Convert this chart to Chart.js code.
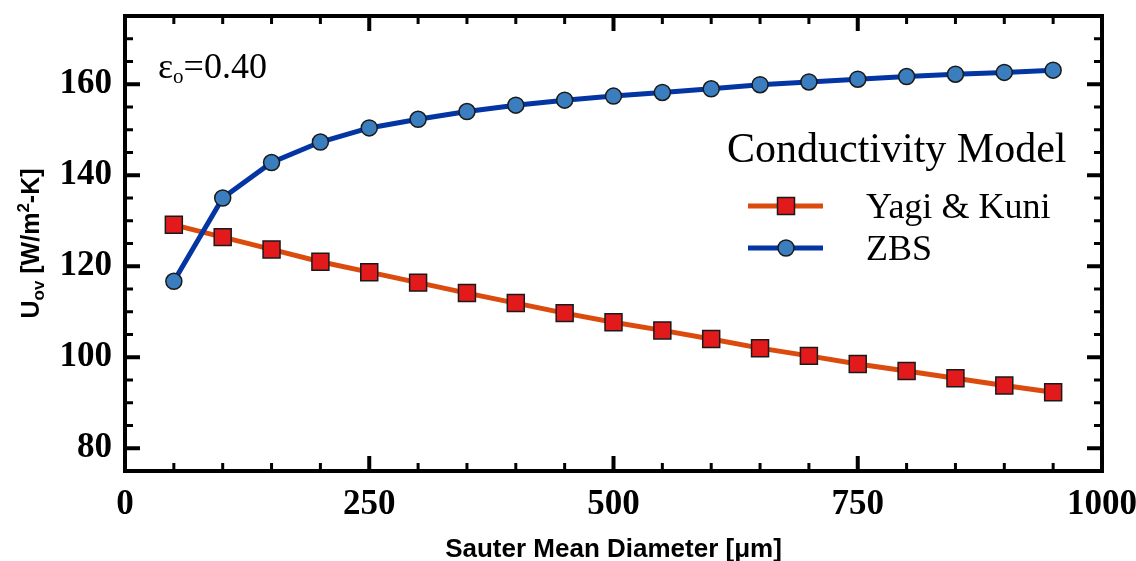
<!DOCTYPE html>
<html lang="en">
<head>
    <meta charset="UTF-8">
    <title>Overall heat transfer coefficient vs Sauter mean diameter</title>
    <script src="https://cdn.jsdelivr.net/npm/chart.js"></script>
    <style>
        html, body {
            margin: 0;
            padding: 0;
            background: #ffffff;
        }
        #wrap {
            width: 1136px;
            height: 561px;
            position: relative;
        }
    </style>
</head>
<body>
    <div id="wrap">
        <canvas id="chart" width="1136" height="561"></canvas>
    </div>

    <script>
        // data
        const diameters = [50, 100, 150, 200, 250, 300, 350, 400, 450, 500, 550, 600, 650, 700, 750, 800, 850, 900, 950];
        const yagiKuni = [129.1, 126.4, 123.7, 121.0, 118.7, 116.4, 114.1, 111.9, 109.7, 107.7, 105.9, 104.0, 102.0, 100.3, 98.5, 97.0, 95.4, 93.8, 92.3];
        const zbs = [116.7, 135.0, 142.8, 147.3, 150.4, 152.3, 154.0, 155.4, 156.5, 157.4, 158.2, 159.0, 159.9, 160.5, 161.1, 161.7, 162.2, 162.6, 163.1];

        const xTicks = [0, 250, 500, 750, 1000];
        const yTicks = [80, 100, 120, 140, 160];
        const xMinorStep = 50;
        const yMinorStep = 5;

        const seriesNames = ['Yagi & Kuni', 'ZBS'];
        const legendTitle = 'Conductivity Model';

        const serif = "'Liberation Serif', 'Times New Roman', serif";
        const sans = "'Liberation Sans', Arial, sans-serif";

        const ORANGE = '#dc4b0e';
        const RED = '#e31a1c';
        const NAVY = '#0335a3';
        const STEEL = '#3a7ebf';
        const EDGE = '#1a1a1a';

        function toPoints(ys) {
            return diameters.map((d, i) => ({ x: d, y: ys[i] }));
        }

        function noScalePadding(scale) {
            scale.paddingTop = 0;
            scale.paddingBottom = 0;
            scale.paddingLeft = 0;
            scale.paddingRight = 0;
        }

        // frame, inward ticks on all four sides, labels, legend
        const decorations = {
            id: 'decorations',
            afterDraw(chart) {
                const ctx = chart.ctx;
                const a = chart.chartArea;
                const xs = chart.scales.x;
                const ys = chart.scales.y;

                ctx.save();
                ctx.strokeStyle = '#000';
                ctx.lineCap = 'butt';

                // x ticks (bottom + top)
                for (let v = xs.min; v <= xs.max; v += xMinorStep) {
                    const px = xs.getPixelForValue(v);
                    const major = xTicks.includes(v);
                    const len = major ? 15 : 8;
                    ctx.lineWidth = major ? 4 : 3;
                    ctx.beginPath();
                    ctx.moveTo(px, a.bottom);
                    ctx.lineTo(px, a.bottom - len);
                    ctx.moveTo(px, a.top);
                    ctx.lineTo(px, a.top + len);
                    ctx.stroke();
                }

                // y ticks (left + right)
                for (let v = 80; v < ys.max; v += yMinorStep) {
                    const py = ys.getPixelForValue(v);
                    const major = yTicks.includes(v);
                    const len = major ? 15 : 8;
                    ctx.lineWidth = major ? 4 : 3;
                    ctx.beginPath();
                    ctx.moveTo(a.left, py);
                    ctx.lineTo(a.left + len, py);
                    ctx.moveTo(a.right, py);
                    ctx.lineTo(a.right - len, py);
                    ctx.stroke();
                }

                // frame
                ctx.lineWidth = 4;
                ctx.lineJoin = 'miter';
                ctx.strokeRect(a.left, a.top, a.right - a.left, a.bottom - a.top);

                // axis titles
                ctx.fillStyle = '#000';
                ctx.textAlign = 'center';
                ctx.textBaseline = 'alphabetic';
                ctx.font = 'bold 26px ' + sans;
                ctx.fillText('Sauter Mean Diameter [\u03bcm]', (a.left + a.right) / 2, 557);

                // y title with sub/superscripts, rotated
                ctx.save();
                ctx.translate(39, (a.top + a.bottom) / 2);
                ctx.rotate(-Math.PI / 2);
                const parts = [
                    { t: 'U', f: 'bold 25px ' + sans, dy: 0 },
                    { t: 'ov', f: 'bold 17px ' + sans, dy: 5 },
                    { t: ' [W/m', f: 'bold 25px ' + sans, dy: 0 },
                    { t: '2', f: 'bold 17px ' + sans, dy: -10 },
                    { t: '-K]', f: 'bold 25px ' + sans, dy: 0 }
                ];
                let total = 0;
                parts.forEach(p => { ctx.font = p.f; p.w = ctx.measureText(p.t).width; total += p.w; });
                let cx = -total / 2;
                ctx.textAlign = 'left';
                parts.forEach(p => {
                    ctx.font = p.f;
                    ctx.fillText(p.t, cx, p.dy);
                    cx += p.w;
                });
                ctx.restore();

                // annotation
                ctx.textAlign = 'left';
                ctx.font = '36px ' + serif;
                ctx.fillText('\u03b5', 158, 78);
                let ex = 158 + ctx.measureText('\u03b5').width;
                ctx.font = '21px ' + serif;
                ctx.fillText('o', ex, 83);
                ex += ctx.measureText('o').width;
                ctx.font = '36px ' + serif;
                ctx.fillText('=0.40', ex, 78);

                // legend
                ctx.font = '42px ' + serif;
                ctx.fillText(legendTitle, 727, 162);

                const rows = [
                    { y: 206, line: ORANGE, fill: RED, shape: 'rect' },
                    { y: 248, line: NAVY, fill: STEEL, shape: 'circle' }
                ];
                rows.forEach((r, i) => {
                    ctx.strokeStyle = r.line;
                    ctx.lineWidth = 5;
                    ctx.beginPath();
                    ctx.moveTo(748, r.y);
                    ctx.lineTo(823, r.y);
                    ctx.stroke();
                    ctx.fillStyle = r.fill;
                    ctx.strokeStyle = EDGE;
                    ctx.lineWidth = 1.5;
                    ctx.beginPath();
                    if (r.shape === 'rect') {
                        ctx.rect(786 - 8.5, r.y - 8.5, 17, 17);
                    } else {
                        ctx.arc(786, r.y, 8, 0, Math.PI * 2);
                    }
                    ctx.fill();
                    ctx.stroke();
                    ctx.fillStyle = '#000';
                    ctx.font = '36px ' + serif;
                    ctx.fillText(seriesNames[i], 866, r.y + 12);
                });

                ctx.restore();
            }
        };

        new Chart(document.getElementById('chart'), {
            type: 'scatter',
            data: {
                datasets: [
                    {
                        label: seriesNames[1],
                        data: toPoints(zbs),
                        showLine: true,
                        borderColor: NAVY,
                        borderWidth: 5,
                        pointStyle: 'circle',
                        pointRadius: 8,
                        pointBackgroundColor: STEEL,
                        pointBorderColor: EDGE,
                        pointBorderWidth: 1.5,
                        order: 0
                    },
                    {
                        label: seriesNames[0],
                        data: toPoints(yagiKuni),
                        showLine: true,
                        borderColor: ORANGE,
                        borderWidth: 5,
                        pointStyle: 'rect',
                        pointRadius: 12,
                        pointBackgroundColor: RED,
                        pointBorderColor: EDGE,
                        pointBorderWidth: 1.5,
                        order: 1
                    }
                ]
            },
            options: {
                responsive: false,
                animation: false,
                layout: { padding: { left: 0, right: 34, top: 16, bottom: 0 } },
                plugins: {
                    legend: { display: false },
                    tooltip: { enabled: false }
                },
                scales: {
                    x: {
                        type: 'linear',
                        min: 0,
                        max: 1000,
                        grid: { display: false, drawTicks: false },
                        border: { display: false },
                        afterFit(scale) { scale.height = 90; noScalePadding(scale); },
                        afterBuildTicks(scale) { scale.ticks = xTicks.map(v => ({ value: v })); },
                        ticks: {
                            padding: 13,
                            color: '#000',
                            maxRotation: 0,
                            autoSkip: false,
                            callback: v => String(v),
                            font: { family: serif, size: 35, weight: 'bold' }
                        }
                    },
                    y: {
                        type: 'linear',
                        min: 75,
                        max: 175,
                        grid: { display: false, drawTicks: false },
                        border: { display: false },
                        afterFit(scale) { scale.width = 125; noScalePadding(scale); },
                        afterBuildTicks(scale) { scale.ticks = yTicks.map(v => ({ value: v })); },
                        ticks: {
                            padding: 13,
                            color: '#000',
                            autoSkip: false,
                            callback: v => String(v),
                            font: { family: serif, size: 35, weight: 'bold' }
                        }
                    }
                }
            },
            plugins: [decorations]
        });
    </script>
</body>
</html>
